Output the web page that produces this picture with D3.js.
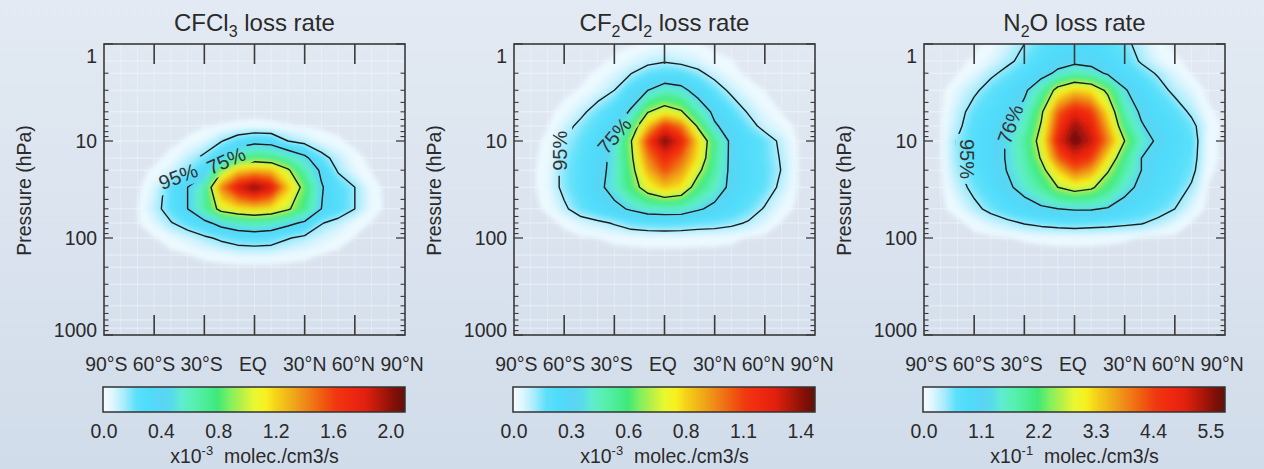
<!DOCTYPE html>
<html>
<head>
<meta charset="utf-8">
<script src="https://cdn.jsdelivr.net/npm/d3@7"></script>
<style>
  html, body { margin: 0; padding: 0; }
  body {
    width: 1264px; height: 469px; overflow: hidden;
    background: linear-gradient(#e3eaf3, #d1dcea);
    font-family: "Liberation Sans", Arial, sans-serif;
  }
</style>
</head>
<body>
<svg id="chart" width="1264" height="469"></svg>
<script>
// grid of the loss-rate fields
const latitudes = [-90, -80, -70, -60, -50, -40, -30, -20, -10, 0, 10, 20, 30, 40, 50, 60, 70, 80, 90];
const pressureLevels = [1, 1.5, 2, 3, 5, 7, 10, 15, 20, 30, 50, 70, 100, 150, 200, 300];

// CFCl3 loss rate, x10^-3 molec./cm3/s (rows = pressure levels, cols = latitudes)
const cfcl3Loss = [
  [0,0,0,0,0,0,0,0,0,0,0,0,0,0,0,0,0,0,0],
  [0,0,0,0,0,0,0,0,0,0,0,0,0,0,0,0,0,0,0],
  [0,0,0,0,0,0,0,0,0,0,0,0,0,0,0,0,0,0,0],
  [0,0,0,0,0,0,0,0,0,0,0,0,0,0,0,0,0,0,0],
  [0,0,0,0,0,0,0,0,0,0,0,0,0,0,0,0,0,0,0],
  [0,0,0,0,0,0,0.01,0.015,0.02,0.025,0.02,0.015,0.01,0,0,0,0,0,0],
  [0,0,0,0,0,0.02,0.06,0.16,0.27,0.34,0.32,0.17,0.11,0.05,0.02,0,0,0,0],
  [0,0,0,0,0.03,0.11,0.21,0.36,0.69,0.80,0.76,0.63,0.48,0.23,0.11,0.03,0,0,0],
  [0,0,0,0.02,0.08,0.19,0.34,0.86,1.22,1.30,1.26,0.99,0.63,0.38,0.15,0.05,0.01,0,0],
  [0,0,0,0.07,0.25,0.42,0.63,1.43,1.85,2.06,1.85,1.26,0.84,0.44,0.27,0.17,0.03,0,0],
  [0,0,0.01,0.11,0.25,0.42,0.67,1.05,1.16,1.22,1.16,0.99,0.74,0.42,0.29,0.17,0.04,0,0],
  [0,0,0.01,0.06,0.16,0.25,0.36,0.50,0.59,0.63,0.59,0.48,0.38,0.18,0.11,0.04,0.01,0,0],
  [0,0,0,0.01,0.04,0.08,0.14,0.20,0.25,0.27,0.25,0.18,0.13,0.08,0.04,0.01,0,0,0],
  [0,0,0,0,0,0.01,0.025,0.04,0.06,0.06,0.06,0.04,0.025,0.01,0,0,0,0,0],
  [0,0,0,0,0,0,0,0,0,0,0,0,0,0,0,0,0,0,0],
  [0,0,0,0,0,0,0,0,0,0,0,0,0,0,0,0,0,0,0]
];

// CF2Cl2 loss rate, x10^-3 molec./cm3/s
const cf2cl2Loss = [
  [0,0,0,0,0,0,0,0.006,0.015,0.022,0.022,0.012,0,0,0,0,0,0,0],
  [0,0,0,0,0,0,0.015,0.04,0.07,0.09,0.07,0.05,0.02,0.01,0,0,0,0,0],
  [0,0,0,0,0,0.015,0.044,0.096,0.16,0.19,0.18,0.125,0.06,0.022,0,0,0,0,0],
  [0,0,0,0,0.012,0.044,0.10,0.22,0.32,0.41,0.37,0.25,0.16,0.074,0.03,0.007,0,0,0],
  [0,0,0,0.022,0.074,0.15,0.22,0.34,0.65,0.76,0.68,0.44,0.28,0.18,0.09,0.037,0.007,0,0],
  [0,0,0.007,0.06,0.13,0.19,0.28,0.51,0.88,1.18,1.03,0.63,0.34,0.25,0.15,0.06,0.03,0,0],
  [0,0,0.015,0.10,0.16,0.235,0.35,0.65,1.15,1.46,1.25,0.85,0.51,0.28,0.21,0.16,0.074,0.004,0],
  [0,0,0.022,0.125,0.18,0.25,0.37,0.62,1.00,1.20,1.06,0.81,0.49,0.28,0.21,0.16,0.09,0.007,0],
  [0,0,0.03,0.13,0.19,0.265,0.37,0.59,0.91,1.10,0.96,0.71,0.47,0.28,0.22,0.17,0.096,0.007,0],
  [0,0,0.03,0.13,0.19,0.28,0.38,0.56,0.76,0.88,0.81,0.56,0.41,0.28,0.21,0.16,0.074,0.007,0],
  [0,0,0.015,0.08,0.16,0.22,0.28,0.34,0.40,0.41,0.41,0.34,0.28,0.22,0.16,0.09,0.03,0,0],
  [0,0,0,0.015,0.05,0.074,0.11,0.16,0.18,0.19,0.18,0.16,0.15,0.125,0.09,0.044,0.007,0,0],
  [0,0,0,0,0.004,0.009,0.015,0.018,0.022,0.022,0.022,0.019,0.018,0.015,0.007,0,0,0,0],
  [0,0,0,0,0,0,0,0,0,0,0,0,0,0,0,0,0,0,0],
  [0,0,0,0,0,0,0,0,0,0,0,0,0,0,0,0,0,0,0],
  [0,0,0,0,0,0,0,0,0,0,0,0,0,0,0,0,0,0,0]
];

// N2O loss rate, x10^-1 molec./cm3/s
const n2oLoss = [
  [0,0,0,0,0.087,0.23,0.46,0.64,0.81,0.87,0.87,0.75,0.58,0.29,0.087,0,0,0,0],
  [0,0,0,0.058,0.17,0.38,0.58,0.87,1.04,1.10,1.04,0.93,0.69,0.41,0.17,0.058,0,0,0],
  [0,0,0.03,0.145,0.38,0.58,0.81,1.04,1.39,1.74,1.56,1.16,0.87,0.64,0.41,0.17,0.03,0,0],
  [0,0,0.17,0.38,0.64,0.87,1.16,1.74,2.90,3.36,3.18,2.43,1.33,0.93,0.64,0.35,0.17,0,0],
  [0,0.012,0.29,0.64,0.81,1.04,1.45,2.43,4.17,4.92,4.52,3.18,1.74,1.16,0.87,0.69,0.38,0.058,0],
  [0,0.03,0.35,0.75,0.93,1.22,1.62,2.66,4.52,5.50,4.92,3.59,2.03,1.33,0.98,0.81,0.58,0.145,0],
  [0,0.03,0.49,0.75,0.98,1.33,1.85,2.90,4.92,5.79,5.21,3.94,2.60,1.56,1.16,0.87,0.69,0.087,0],
  [0,0.03,0.46,0.75,0.98,1.33,1.74,2.66,4.17,4.92,4.52,3.18,2.03,1.27,0.98,0.81,0.64,0.087,0],
  [0,0.017,0.41,0.69,0.93,1.30,1.68,2.32,3.36,4.17,3.76,2.66,1.85,1.27,0.93,0.75,0.58,0.058,0],
  [0,0,0.29,0.58,0.81,1.16,1.50,1.91,2.60,2.90,2.72,2.14,1.50,1.10,0.87,0.69,0.41,0.03,0],
  [0,0,0.12,0.35,0.58,0.81,0.98,1.16,1.27,1.33,1.33,1.22,0.98,0.81,0.64,0.46,0.17,0,0],
  [0,0,0,0.087,0.23,0.35,0.49,0.58,0.64,0.69,0.64,0.61,0.55,0.49,0.35,0.17,0.03,0,0],
  [0,0,0,0,0,0.03,0.046,0.058,0.07,0.07,0.07,0.058,0.046,0.03,0,0,0,0,0],
  [0,0,0,0,0,0,0,0,0,0,0,0,0,0,0,0,0,0,0],
  [0,0,0,0,0,0,0,0,0,0,0,0,0,0,0,0,0,0,0],
  [0,0,0,0,0,0,0,0,0,0,0,0,0,0,0,0,0,0,0]
];

// contour levels (inner, labelled middle, labelled outer) in field units
const cfcl3ContourLevels = [0.95, 0.42, 0.17];
const cf2cl2ContourLevels = [0.66, 0.32, 0.10];
const n2oContourLevels = [2.6, 1.27, 0.46];

const cfcl3ContourLabels = ["95%", "75%"];
const cf2cl2ContourLabels = ["95%", "75%"];
const n2oContourLabels = ["76%", "95%"];

// colour bar ticks
const cfcl3BarTicks = [0, 0.4, 0.8, 1.2, 1.6, 2.0];
const cf2cl2BarTicks = [0, 0.28, 0.56, 0.84, 1.12, 1.4];
const n2oBarTicks = [0, 1.1, 2.2, 3.3, 4.4, 5.5];
const barExponents = ["-3", "-3", "-1"];

const latTicks = [-60, -30, 0, 30, 60];
const latTickLabels = ["90°S", "60°S", "30°S", "EQ", "30°N", "60°N", "90°N"];
const pressureTicks = [1, 10, 100, 1000];
const pressureGrid = [1.5, 2, 3, 5, 7, 10, 15, 20, 30, 50, 70, 100, 150, 200, 300, 500, 700, 850];

// colour table (fraction of bar -> colour)
const cmapStops = [0, 0.03, 0.07, 0.11, 0.15, 0.2, 0.23, 0.26, 0.3, 0.35, 0.38, 0.42, 0.46, 0.5,
  0.54, 0.57, 0.62, 0.67, 0.72, 0.77, 0.82, 0.87, 0.92, 0.96, 1];
const cmapColors = ["#f8fcff", "#e0f6fe", "#a8ecfc", "#5ce0fa", "#4fdcfb", "#5ad4f4", "#58dcea",
  "#60ecd0", "#58f0b0", "#48ec90", "#40e878", "#80f060", "#b8f048", "#e8f830", "#f8f020", "#f5d418",
  "#f0b018", "#f08818", "#f06010", "#f03810", "#f02810", "#e02010", "#b01808", "#881008", "#601008"];
const cmap = d3.scaleLinear().domain(cmapStops).range(cmapColors).clamp(true);

const panels = [
  { title: [["CFCl", 0], ["3", 1], [" loss rate", 0]], field: cfcl3Loss, levels: cfcl3ContourLevels,
    barTicks: cfcl3BarTicks, exp: barExponents[0],
    labels: [
      { text: cfcl3ContourLabels[0], lat: -45.6, p: 23.3, angle: -21, w: 56 },
      { text: cfcl3ContourLabels[1], lat: -17, p: 16, angle: -24, w: 50 }
    ] },
  { title: [["CF", 0], ["2", 1], ["Cl", 0], ["2", 1], [" loss rate", 0]], field: cf2cl2Loss, levels: cf2cl2ContourLevels,
    barTicks: cf2cl2BarTicks, exp: barExponents[1],
    labels: [
      { text: cf2cl2ContourLabels[0], lat: -62.4, p: 12.6, angle: -90, w: 50 },
      { text: cf2cl2ContourLabels[1], lat: -30, p: 8.8, angle: -50, w: 50 }
    ] },
  { title: [["N", 0], ["2", 1], ["O loss rate", 0]], field: n2oLoss, levels: n2oContourLevels,
    barTicks: n2oBarTicks, exp: barExponents[2],
    labels: [
      { text: n2oContourLabels[0], lat: -38.4, p: 6.7, angle: -70, w: 50 },
      { text: n2oContourLabels[1], lat: -64, p: 15.3, angle: 90, w: 50 }
    ] }
];

const svg = d3.select("#chart");
const defs = svg.append("defs");
defs.append("filter").attr("id", "soft").attr("x", "-20%").attr("y", "-20%").attr("width", "140%").attr("height", "140%")
  .append("feGaussianBlur").attr("stdDeviation", 2.5);

const grad = defs.append("linearGradient").attr("id", "cbar");
cmapStops.forEach((s, i) => grad.append("stop").attr("offset", s).attr("stop-color", cmapColors[i]));

const plotW = 301, plotTop = 44, plotBottom = 335;
const lefts = [104, 514, 924];
const textColor = "#2a2a2a";
const fontSize = 19.4;

panels.forEach((pan, k) => {
  const left = lefts[k], right = left + plotW, cx = left + plotW / 2;
  const x = d3.scaleLinear().domain([-90, 90]).range([left, right]);
  const y = d3.scaleLog().domain([1, 1000]).range([plotTop, plotBottom]);
  const barMax = pan.barTicks[pan.barTicks.length - 1] * 301 / 286;
  const g = svg.append("g");

  // title with subscripts
  const title = g.append("text").attr("x", cx).attr("y", 31).attr("text-anchor", "middle")
    .attr("font-size", 24).attr("fill", textColor);
  let wasSub = false;
  pan.title.forEach(([t, sub]) => {
    const ts = title.append("tspan").text(t);
    if (sub) ts.attr("font-size", 16).attr("dy", 6);
    else if (wasSub) ts.attr("dy", -6);
    wasSub = !!sub;
  });

  // faint grid
  const grid = g.append("g").attr("stroke", "#ffffff").attr("stroke-width", 1);
  grid.selectAll("line.h").data(pressureGrid).join("line")
    .attr("x1", left).attr("x2", right).attr("y1", d => y(d)).attr("y2", d => y(d)).attr("stroke-opacity", 0.5);
  grid.selectAll("line.v").data(latitudes.slice(1, -1)).join("line")
    .attr("y1", plotTop).attr("y2", plotBottom).attr("x1", d => x(d)).attr("x2", d => x(d)).attr("stroke-opacity", 0.3);

  // field -> contours in grid space, mapped to lat / log p
  const nx = latitudes.length, ny = pressureLevels.length;
  const values = pan.field.flat();
  const logP = pressureLevels.map(Math.log10);
  const at = (arr, s) => {
    const i = Math.max(0, Math.min(arr.length - 2, Math.floor(s)));
    return arr[i] + (s - i) * (arr[i + 1] - arr[i]);
  };
  const toPx = ([gx, gy]) => [x(at(latitudes, gx - 0.5)), y(Math.pow(10, at(logP, gy - 0.5)))];
  const mapGeom = geo => {
    geo.coordinates = geo.coordinates.map(poly => poly.map(ring => ring.map(toPx)));
    return geo;
  };
  const path = d3.geoPath();

  const clipId = "clip" + k;
  defs.append("clipPath").attr("id", clipId).append("rect")
    .attr("x", left).attr("y", plotTop).attr("width", plotW).attr("height", plotBottom - plotTop);

  const steps = d3.range(0.006, 1, 0.018);
  const fills = d3.contours().size([nx, ny]).thresholds(steps.map(s => s * barMax))(values);
  g.append("g").attr("clip-path", `url(#${clipId})`)
    .append("g").attr("filter", "url(#soft)")
    .selectAll("path").data(fills).join("path")
    .attr("d", d => path(mapGeom(d)))
    .attr("fill", (d, i) => cmap(steps[i] + 0.009));

  // gaps in the contour lines under the labels
  const maskId = "gap" + k;
  const mask = defs.append("mask").attr("id", maskId).attr("maskUnits", "userSpaceOnUse")
    .attr("x", 0).attr("y", 0).attr("width", 1264).attr("height", 469);
  mask.append("rect").attr("width", 1264).attr("height", 469).attr("fill", "white");
  pan.labels.forEach(l => {
    mask.append("rect").attr("x", -l.w / 2).attr("y", -12).attr("width", l.w).attr("height", 24).attr("fill", "black")
      .attr("transform", `translate(${x(l.lat)},${y(l.p)}) rotate(${l.angle})`);
  });

  const lines = d3.contours().size([nx, ny]).thresholds(pan.levels)(values);
  g.append("g").attr("clip-path", `url(#${clipId})`)
    .append("g").attr("mask", `url(#${maskId})`)
    .selectAll("path").data(lines).join("path")
    .attr("d", d => path(mapGeom(d)))
    .attr("fill", "none").attr("stroke", "#1c1c1c").attr("stroke-width", 1.4).attr("stroke-linejoin", "round");

  g.selectAll("text.clab").data(pan.labels).join("text")
    .attr("transform", d => `translate(${x(d.lat)},${y(d.p)}) rotate(${d.angle})`)
    .attr("text-anchor", "middle").attr("dominant-baseline", "central")
    .attr("font-size", 20).attr("fill", "#333").text(d => d.text);

  // frame and ticks
  const ax = g.append("g").attr("stroke", "#3a3a3a");
  ax.selectAll("line.xt").data(latTicks).join("line")
    .attr("x1", d => x(d)).attr("x2", d => x(d)).attr("y1", plotTop).attr("y2", plotTop + 20).attr("stroke-width", 1.6);
  ax.selectAll("line.xb").data(latTicks).join("line")
    .attr("x1", d => x(d)).attr("x2", d => x(d)).attr("y1", plotBottom).attr("y2", plotBottom - 20).attr("stroke-width", 1.6);
  const minor = [];
  [1, 10, 100].forEach(dec => d3.range(2, 10).forEach(m => minor.push(dec * m)));
  [[left, 1], [right, -1]].forEach(([x0, dir]) => {
    ax.append("g").selectAll("line").data(pressureTicks).join("line")
      .attr("x1", x0).attr("x2", x0 + dir * 9).attr("y1", d => y(d)).attr("y2", d => y(d)).attr("stroke-width", 1.3);
    ax.append("g").selectAll("line").data(minor).join("line")
      .attr("x1", x0).attr("x2", x0 + dir * 4.5).attr("y1", d => y(d)).attr("y2", d => y(d)).attr("stroke-width", 1.1);
  });
  ax.append("rect").attr("x", left).attr("y", plotTop).attr("width", plotW).attr("height", plotBottom - plotTop)
    .attr("fill", "none").attr("stroke-width", 1.6);

  // y labels
  g.selectAll("text.yl").data(pressureTicks).join("text")
    .attr("x", left - 7).attr("y", d => Math.max(plotTop + 12, Math.min(plotBottom - 5, y(d))))
    .attr("text-anchor", "end").attr("dominant-baseline", "central")
    .attr("font-size", fontSize).attr("fill", textColor).text(d => d);
  g.append("text").attr("transform", `translate(${left - 73},${(plotTop + plotBottom) / 2 + 1}) rotate(-90)`)
    .attr("text-anchor", "middle").attr("font-size", fontSize).attr("fill", textColor).text("Pressure (hPa)");

  // latitude labels, one spaced string
  g.append("text").attr("x", cx).attr("y", 371).attr("text-anchor", "middle").attr("xml:space", "preserve")
    .attr("font-size", fontSize).attr("fill", textColor)
    .text(latTickLabels.slice(0, 3).join(" ") + "   " + latTickLabels[3] + "   " + latTickLabels.slice(4).join(" "));

  // colour bar
  const cb = d3.scaleLinear().domain([0, barMax]).range([left - 1, right]);
  g.append("rect").attr("x", cb(0)).attr("y", 387).attr("width", cb(barMax) - cb(0)).attr("height", 25)
    .attr("fill", "url(#cbar)").attr("stroke", "#333").attr("stroke-width", 1.5);
  g.selectAll("text.cbl").data(pan.barTicks).join("text")
    .attr("x", d => cb(d) + 1).attr("y", 438).attr("text-anchor", "middle")
    .attr("font-size", fontSize).attr("fill", textColor).text(d3.format(".1f"));
  const unit = g.append("text").attr("x", cx).attr("y", 463).attr("text-anchor", "middle")
    .attr("font-size", 19.5).attr("fill", textColor).attr("xml:space", "preserve");
  unit.append("tspan").text("x10");
  unit.append("tspan").attr("font-size", 13).attr("dy", -8).text(pan.exp);
  unit.append("tspan").attr("dy", 8).text("  molec./cm3/s");
});
</script>
</body>
</html>
